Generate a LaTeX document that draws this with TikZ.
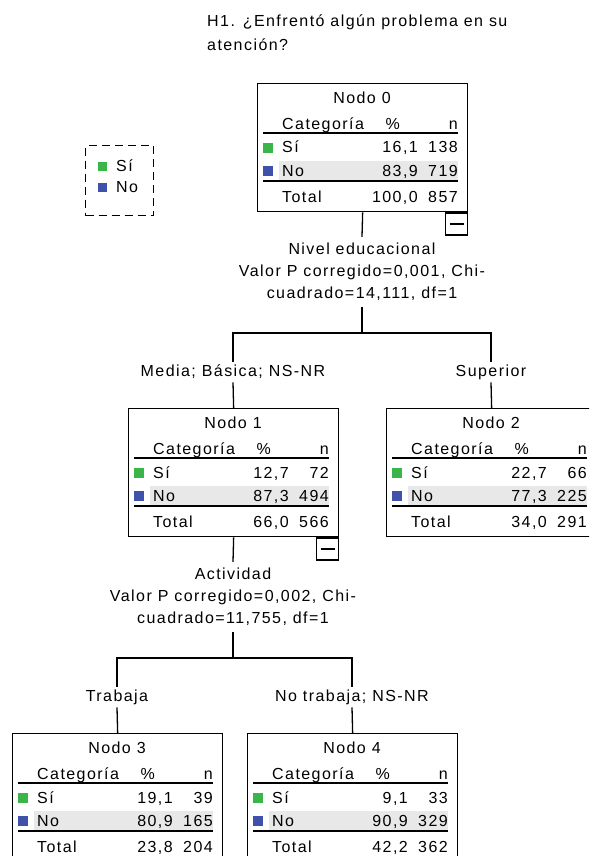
\documentclass[tikz,border=0pt]{standalone}
\usepackage{fontspec}
\setmainfont{Liberation Sans}[LetterSpace=9]
\definecolor{sigreen}{RGB}{57,181,74}
\definecolor{noblue}{RGB}{62,82,172}
\definecolor{rowgray}{RGB}{232,232,232}
\tikzset{
  every node/.style={font=\fontsize{16}{22}\selectfont, inner sep=0pt},
  box/.style={draw, line width=1.3pt, minimum width=210pt, minimum height=128pt, anchor=north west},
  rule/.style={line width=1.8pt},
  conn/.style={line width=1.3pt},
  lbl/.style={text height=11.5pt, text depth=3pt, inner ysep=3pt, inner xsep=3pt},
  split/.style={align=center, minimum height=70pt},
  btn/.style={draw, line width=1.3pt, minimum size=22pt, anchor=north east},
}
\newcommand\treenode[9]{%
\begin{scope}[shift={(#2)}]
\node[box] (#1) at (0,0) {};
\fill[rowgray] (22,78) rectangle (201,97);
\fill[sigreen] (6,60) rectangle (16,70);
\fill[noblue] (6,83) rectangle (16,93);
\draw[rule] (6,50) -- (201,50);
\draw[rule] (6,98) -- (201,98);
\node[anchor=base] (#1-title) at (105,20.5) {#3};
\node[anchor=base west] (#1-cat) at (25,46) {Categoría};
\node[anchor=base east] (#1-pc) at (143,46) {\%};
\node[anchor=base east] (#1-n) at (201,46) {n};
\node[anchor=base west] (#1-si) at (25,70) {Sí};
\node[anchor=base east] (#1-sip) at (161,70) {#4};
\node[anchor=base east] (#1-sin) at (201,70) {#5};
\node[anchor=base west] (#1-no) at (25,93.5) {No};
\node[anchor=base east] (#1-nop) at (161,93.5) {#6};
\node[anchor=base east] (#1-non) at (201,93.5) {#7};
\node[anchor=base west] (#1-tot) at (25,119.5) {Total};
\node[anchor=base east] (#1-totp) at (161,119.5) {#8};
\node[anchor=base east] (#1-totn) at (201,119.5) {#9};
\end{scope}}
\begin{document}
\begin{tikzpicture}[x=1pt,y=-1pt]
\useasboundingbox (0,0) rectangle (589,856);
\clip (0,0) rectangle (589,856);
% title
\node[anchor=base west, align=left, font=\fontsize{16}{24}\selectfont] (title) at (207,50.5)
  {H1. ¿Enfrentó algún problema en su\\atención?};
% legend
\node[draw, dash pattern=on 8pt off 5pt, line width=1.2pt, minimum width=68pt, minimum height=70pt, anchor=north west] (legend) at (85,145) {};
\fill[sigreen] (98,162) rectangle (107,171);
\fill[noblue] (98,183) rectangle (107,192);
\node[anchor=base west] (legsi) at (116,171.5) {Sí};
\node[anchor=base west] (legno) at (116,192.5) {No};
% nodes
\treenode{n0}{257,83}{Nodo 0}{16,1}{138}{83,9}{719}{100,0}{857}
\treenode{n1}{128,408}{Nodo 1}{12,7}{72}{87,3}{494}{66,0}{566}
\treenode{n2}{386,408}{Nodo 2}{22,7}{66}{77,3}{225}{34,0}{291}
\treenode{n3}{12,733}{Nodo 3}{19,1}{39}{80,9}{165}{23,8}{204}
\treenode{n4}{247,733}{Nodo 4}{9,1}{33}{90,9}{329}{42,2}{362}
% collapse buttons
\node[btn] (n0btn) at (n0.south east) {};
\draw[conn] ([xshift=-7pt]n0btn.center) -- ([xshift=7pt]n0btn.center);
\node[btn] (n1btn) at (n1.south east) {};
\draw[conn] ([xshift=-7pt]n1btn.center) -- ([xshift=7pt]n1btn.center);
% split 0
\node[split] (s0) at (362,272) {Nivel educacional\\Valor P corregido=0,001, Chi-\\cuadrado=14,111, df=1};
\coordinate (j0) at (362,333);
\node[lbl] (b1) at (233,372) {Media; Básica; NS-NR};
\node[lbl] (b2) at (491,372) {Superior};
\draw[conn] (n0.south) -- (s0.north);
\draw[conn] (s0.south) -- (j0);
\draw[conn] (j0) -| (b1.north);
\draw[conn] (j0) -| (b2.north);
\draw[conn] (b1.south) -- (n1.north);
\draw[conn] (b2.south) -- (n2.north);
% split 1
\node[split] (s1) at (233,597) {Actividad\\Valor P corregido=0,002, Chi-\\cuadrado=11,755, df=1};
\coordinate (j1) at (233,658);
\node[lbl] (b3) at (117,697) {Trabaja};
\node[lbl] (b4) at (352,697) {No trabaja; NS-NR};
\draw[conn] (n1.south) -- (s1.north);
\draw[conn] (s1.south) -- (j1);
\draw[conn] (j1) -| (b3.north);
\draw[conn] (j1) -| (b4.north);
\draw[conn] (b3.south) -- (n3.north);
\draw[conn] (b4.south) -- (n4.north);
\end{tikzpicture}
\end{document}
